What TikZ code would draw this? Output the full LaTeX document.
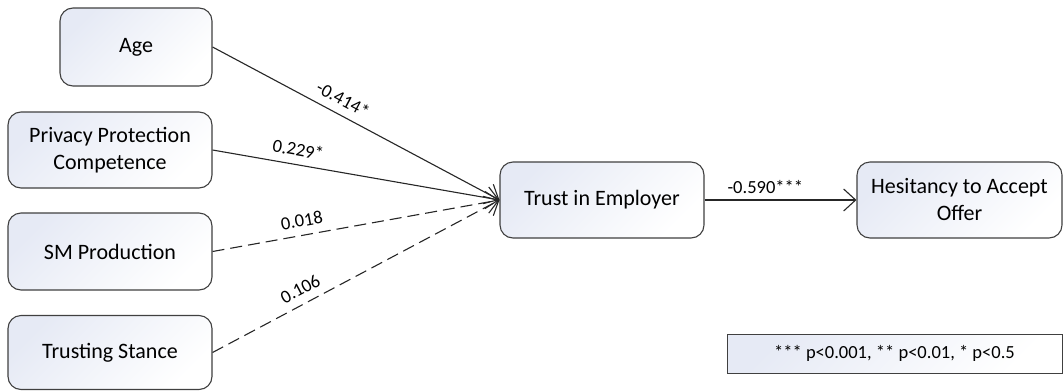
\documentclass[tikz,border=0pt]{standalone}
\usepackage{fontspec}
\setmainfont{Carlito}
\usepackage{tikz}
\usetikzlibrary{positioning}
\usetikzlibrary{arrows.meta}

\definecolor{boxfill}{RGB}{230,234,245}
\definecolor{boxline}{RGB}{64,64,64}

\tikzset{
    box/.style={draw=boxline, line width=1.1pt, rounded corners=13pt,
        top color=boxfill, bottom color=white, shading angle=45, align=center,
        minimum width=204pt, minimum height=76pt, inner sep=0pt,
        font=\fontsize{22}{27}\selectfont},
    link/.style={draw=black!85, line width=1.1pt,
        -{Straight Barb[length=12pt,width=22pt]}},
    weak/.style={link, dash pattern=on 12pt off 6pt},
    coef/.style={font=\fontsize{18.5}{22}\selectfont, inner sep=3pt}
}

\begin{document}
\begin{tikzpicture}[x=1pt, y=-1pt]
    \useasboundingbox (0,0) rectangle (1064,391);
    % predictors on the left
    \node (age) at (136,47) [box, minimum width=152pt, minimum height=78pt] {Age};
    \node (ppc) at (110,150) [box] {Privacy Protection\\Competence};
    \node (smp) at (110,251.5) [box, minimum height=77pt] {SM Production};
    \node (ts)  at (110,352.5) [box, minimum height=74pt] {Trusting Stance};
    % mediator and outcome
    \node (tie) at (602,200) [box] {Trust in Employer};
    \node (hes) at (959.5,200) [box, minimum width=205pt] {Hesitancy to Accept\\Offer};
    % significance key
    \node (key) at (894.5,353.5) [draw=boxline, line width=1pt, top color=boxfill, bottom color=white,
        shading angle=45, minimum width=335pt, minimum height=39pt, inner sep=0pt,
        font=\fontsize{18.5}{22}\selectfont]
        {*** p<0.001, ** p<0.01, * p<0.5};
    \draw[link] (age.east) -- node[coef, pos=0.43, above=5pt, sloped] {-0.414*} (tie.west);
    \draw[link] (ppc.east) -- node[coef, pos=0.29, above=5pt, sloped] {0.229*} (tie.west);
    \draw[weak] (smp.east) -- node[coef, pos=0.32, above=5pt, sloped] {0.018} (tie.west);
    \draw[weak] (ts.east) -- node[coef, pos=0.33, above=5pt, sloped] {0.106} (tie.west);
    \draw[link] (tie.east) -- node[coef, pos=0.4, above=3pt] {-0.590***} (hes.west); % mediator to outcome
\end{tikzpicture}
\end{document}
